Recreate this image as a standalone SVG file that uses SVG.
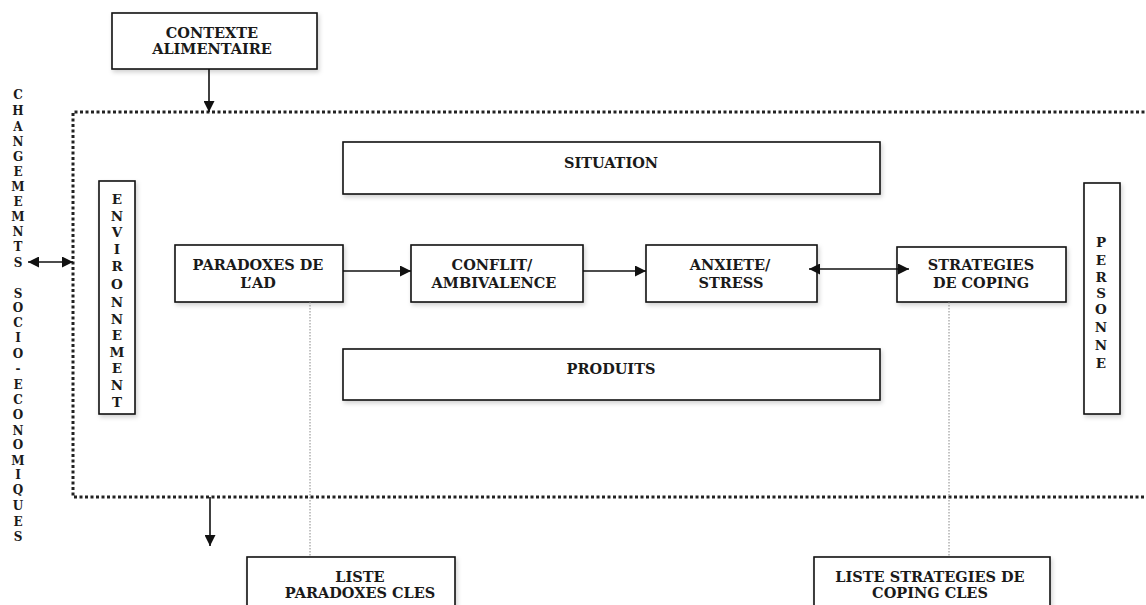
<svg xmlns="http://www.w3.org/2000/svg" width="1146" height="605" viewBox="0 0 1146 605">
<defs>
<style>
.box{fill:#fff;stroke:#111;stroke-width:1.6;filter:url(#sh)}
.t{font-family:"DejaVu Serif","Liberation Serif",serif;font-weight:bold;font-size:14.5px;fill:#1a1a1a;text-anchor:middle}
.v{font-family:"DejaVu Serif","Liberation Serif",serif;font-weight:bold;font-size:12px;fill:#1a1a1a;text-anchor:middle}
.vb{font-family:"DejaVu Serif","Liberation Serif",serif;font-weight:bold;font-size:13.5px;fill:#1a1a1a;text-anchor:middle}
.arr{stroke:#111;stroke-width:1.6;fill:none}
.frame{stroke:#222;stroke-width:3;stroke-dasharray:3 2.5;fill:none}
.thin{stroke:#888;stroke-width:1;stroke-dasharray:1.5 1.5;fill:none}
</style>
<filter id="sh" x="-10%" y="-10%" width="130%" height="140%">
<feDropShadow dx="1.5" dy="2.5" stdDeviation="2" flood-color="#000" flood-opacity="0.18"/>
</filter>
<marker id="ah" viewBox="0 0 10 10" refX="10" refY="5" markerWidth="11" markerHeight="11" markerUnits="userSpaceOnUse" orient="auto-start-reverse">
<path d="M0,0 L10,5 L0,10 Z" fill="#111"/>
</marker>
</defs>
<rect width="1146" height="605" fill="#fff"/>

<g id="frame">
<path class="frame" d="M1150,112 H73 V497 H1150"/>
</g>

<g id="contexte">
<rect class="box" x="112" y="13" width="205" height="56"/>
<text class="t" x="212" y="38">CONTEXTE</text>
<text class="t" x="212" y="54">ALIMENTAIRE</text>
</g>

<g id="changements">
<text class="v" x="18" y="99">C</text>
<text class="v" x="18" y="115">H</text>
<text class="v" x="18" y="131">A</text>
<text class="v" x="18" y="146">N</text>
<text class="v" x="18" y="161">G</text>
<text class="v" x="18" y="176">E</text>
<text class="v" x="18" y="191">M</text>
<text class="v" x="18" y="206">E</text>
<text class="v" x="18" y="221">M</text>
<text class="v" x="18" y="236">N</text>
<text class="v" x="18" y="251">T</text>
<text class="v" x="18" y="267">S</text>
<text class="v" x="18" y="298">S</text>
<text class="v" x="18" y="312">O</text>
<text class="v" x="18" y="327">C</text>
<text class="v" x="18" y="342">I</text>
<text class="v" x="18" y="358">O</text>
<text class="v" x="18" y="373">-</text>
<text class="v" x="18" y="389">E</text>
<text class="v" x="18" y="404">C</text>
<text class="v" x="18" y="419">O</text>
<text class="v" x="18" y="435">N</text>
<text class="v" x="18" y="449">O</text>
<text class="v" x="18" y="465">M</text>
<text class="v" x="18" y="479">I</text>
<text class="v" x="18" y="494">Q</text>
<text class="v" x="18" y="510">U</text>
<text class="v" x="18" y="526">E</text>
<text class="v" x="18" y="541">S</text>
</g>

<g id="environnement">
<rect class="box" x="99" y="181" width="36" height="233"/>
<text class="vb" x="117" y="204">E</text>
<text class="vb" x="117" y="221">N</text>
<text class="vb" x="117" y="237">V</text>
<text class="vb" x="117" y="254">I</text>
<text class="vb" x="117" y="271">R</text>
<text class="vb" x="117" y="289">O</text>
<text class="vb" x="117" y="307">N</text>
<text class="vb" x="117" y="324">N</text>
<text class="vb" x="117" y="340">E</text>
<text class="vb" x="117" y="357">M</text>
<text class="vb" x="117" y="373">E</text>
<text class="vb" x="117" y="390">N</text>
<text class="vb" x="117" y="407">T</text>
</g>

<g id="situation">
<rect class="box" x="343" y="142" width="537" height="52"/>
<text class="t" x="611" y="168">SITUATION</text>
</g>

<g id="produits">
<rect class="box" x="343" y="349" width="537" height="51"/>
<text class="t" x="611" y="374">PRODUITS</text>
</g>

<g id="paradoxes">
<rect class="box" x="175" y="245" width="168" height="57"/>
<text class="t" x="258" y="270">PARADOXES DE</text>
<text class="t" x="258" y="288">L’AD</text>
</g>

<g id="conflit">
<rect class="box" x="411" y="245" width="172" height="57"/>
<text class="t" x="492" y="270">CONFLIT/</text>
<text class="t" x="494" y="288">AMBIVALENCE</text>
</g>

<g id="anxiete">
<rect class="box" x="646" y="245" width="171" height="57"/>
<text class="t" x="730" y="270">ANXIETE/</text>
<text class="t" x="731" y="288">STRESS</text>
</g>

<g id="strategies">
<rect class="box" x="897" y="247" width="169" height="55"/>
<text class="t" x="981" y="270">STRATEGIES</text>
<text class="t" x="981" y="288">DE COPING</text>
</g>

<g id="personne">
<rect class="box" x="1084" y="183" width="36" height="231"/>
<text class="vb" x="1101" y="247">P</text>
<text class="vb" x="1101" y="265">E</text>
<text class="vb" x="1101" y="282">R</text>
<text class="vb" x="1101" y="298">S</text>
<text class="vb" x="1101" y="314">O</text>
<text class="vb" x="1101" y="332">N</text>
<text class="vb" x="1101" y="350">N</text>
<text class="vb" x="1101" y="368">E</text>
</g>

<g id="liste-paradoxes">
<rect class="box" x="247" y="557" width="208" height="70"/>
<text class="t" x="360" y="582">LISTE</text>
<text class="t" x="360" y="598">PARADOXES CLES</text>
</g>

<g id="liste-strategies">
<rect class="box" x="814" y="557" width="236" height="70"/>
<text class="t" x="930" y="582">LISTE STRATEGIES DE</text>
<text class="t" x="930" y="598">COPING CLES</text>
</g>

<g id="connectors">
<line class="arr" x1="209" y1="69" x2="209" y2="112" marker-end="url(#ah)"/>
<line class="arr" x1="28" y1="262" x2="73" y2="262" marker-start="url(#ah)" marker-end="url(#ah)"/>
<line class="arr" x1="343" y1="271" x2="411" y2="271" marker-end="url(#ah)"/>
<line class="arr" x1="583" y1="271" x2="646" y2="271" marker-end="url(#ah)"/>
<line class="arr" x1="809" y1="269" x2="909" y2="269" marker-start="url(#ah)" marker-end="url(#ah)"/>
<line class="arr" x1="210" y1="497" x2="210" y2="546" marker-end="url(#ah)"/>
<line class="thin" x1="310" y1="302" x2="310" y2="557"/>
<line class="thin" x1="949" y1="302" x2="949" y2="557"/>
</g>
</svg>
